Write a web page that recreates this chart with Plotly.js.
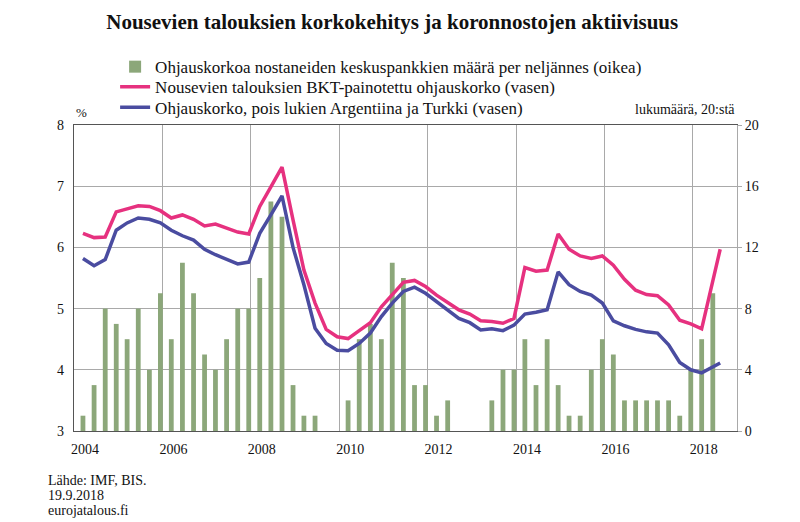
<!DOCTYPE html>
<html>
<head>
<meta charset="utf-8">
<script src="https://cdn.plot.ly/plotly-3.0.1.min.js"></script>
<style>html,body{margin:0;padding:0;background:#fff}#chart{width:800px;height:522px}</style>
</head>
<body>
<div id="chart"></div>
<script>
// Quarterly periods for the bars (2004Q1 .. 2018Q2)
const quarters = [
  "2004Q1","2004Q2","2004Q3","2004Q4","2005Q1","2005Q2","2005Q3","2005Q4",
  "2006Q1","2006Q2","2006Q3","2006Q4","2007Q1","2007Q2","2007Q3","2007Q4",
  "2008Q1","2008Q2","2008Q3","2008Q4","2009Q1","2009Q2","2009Q3","2009Q4",
  "2010Q1","2010Q2","2010Q3","2010Q4","2011Q1","2011Q2","2011Q3","2011Q4",
  "2012Q1","2012Q2","2012Q3","2012Q4","2013Q1","2013Q2","2013Q3","2013Q4",
  "2014Q1","2014Q2","2014Q3","2014Q4","2015Q1","2015Q2","2015Q3","2015Q4",
  "2016Q1","2016Q2","2016Q3","2016Q4","2017Q1","2017Q2","2017Q3","2017Q4",
  "2018Q1","2018Q2"
];
// Number of central banks (of 20) raising policy rate per quarter (right axis)
const hikes = [
  1,3,8,7,6,8,4,9, 6,11,9,5,4,6,8,8, 10,15,14,3,1,1,0,0,
  2,6,7,6,11,10,3,3, 1,2,0,0,0,2,4,4, 6,3,6,3,1,1,4,6,
  5,2,2,2,2,2,1,4, 6,9
];
// Periods of the policy-rate lines (last observation August 2018)
const ratePeriods = quarters.slice(0, 57).concat(["2018M08"]);
// GDP-weighted policy rate of emerging economies, % (left axis)
const rateEM = [
  6.23,6.16,6.17,6.58,6.63,6.68,6.67,6.60,6.48,6.53,
  6.46,6.35,6.38,6.31,6.25,6.22,6.67,6.99,7.31,6.45,
  5.63,5.09,4.66,4.54,4.51,4.64,4.77,5.03,5.22,5.43,
  5.46,5.36,5.22,5.10,4.98,4.91,4.80,4.79,4.76,4.84,
  5.67,5.61,5.63,6.22,5.97,5.86,5.82,5.86,5.71,5.48,
  5.30,5.23,5.21,5.06,4.81,4.75,4.67,5.97
];
// Policy rate excluding Argentina and Turkey, % (left axis)
const rateExAT = [
  5.82,5.70,5.80,6.28,6.40,6.48,6.46,6.40,6.28,6.19,
  6.12,5.97,5.88,5.81,5.73,5.76,6.23,6.53,6.84,6.00,
  5.39,4.68,4.43,4.32,4.31,4.43,4.60,4.87,5.09,5.28,
  5.35,5.25,5.11,4.98,4.84,4.77,4.65,4.67,4.64,4.73,
  4.91,4.94,4.98,5.60,5.39,5.28,5.22,5.09,4.80,4.72,
  4.66,4.62,4.60,4.41,4.12,4.00,3.95,4.11
];
const yearTicks = ["2004","2006","2008","2010","2012","2014","2016","2018"];
const leftTicks = [3,4,5,6,7,8];
const rightTicks = [0,4,8,12,16,20];

function toDate(p) {
  if (p.indexOf("Q") > 0) {
    const [y, q] = p.split("Q");
    return y + "-" + String(q * 3).padStart(2, "0") + "-15";
  }
  const [y, m] = p.split("M");
  return y + "-" + m + "-15";
}

const FONT = "Liberation Serif, DejaVu Serif, serif";
const GRID = "#a9a9a9";

const traces = [
  {
    type: "bar", name: "Ohjauskorkoa nostaneiden keskuspankkien määrä per neljännes (oikea)",
    x: quarters.map(toDate), y: hikes, yaxis: "y", legend: "legend",
    marker: {color: "#8ca77a", line: {width: 0}}, hoverinfo: "skip"
  },
  {
    type: "scatter", mode: "lines", name: "Nousevien talouksien BKT-painotettu ohjauskorko (vasen)",
    x: ratePeriods.map(toDate), y: rateEM, yaxis: "y2", legend: "legend2",
    line: {color: "#e6317f", width: 3.5}, hoverinfo: "skip"
  },
  {
    type: "scatter", mode: "lines", name: "Ohjauskorko, pois lukien Argentiina ja Turkki (vasen)",
    x: ratePeriods.map(toDate), y: rateExAT, yaxis: "y2", legend: "legend3",
    line: {color: "#4a4ca0", width: 3.5}, hoverinfo: "skip"
  }
];

function legendAt(y) {
  return {
    x: 0.062, xanchor: "left", y: y, yanchor: "top",
    orientation: "v", font: {family: FONT, size: 17, color: "#111"},
    bgcolor: "rgba(0,0,0,0)", itemwidth: 30
  };
}

const layout = {
  width: 800, height: 522,
  margin: {l: 74, r: 63, t: 125, b: 91},
  paper_bgcolor: "#fff", plot_bgcolor: "#fff",
  font: {family: FONT, color: "#111"},
  showlegend: true,
  bargap: 0.56,
  title: {
    text: "<b>Nousevien talouksien korkokehitys ja koronnostojen aktiivisuus</b>",
    font: {family: FONT, size: 21, color: "#111"},
    x: 0.48, xanchor: "center", xref: "paper", y: 0.958, yanchor: "middle", yref: "container"
  },
  legend: legendAt(1.248),
  legend2: legendAt(1.182),
  legend3: legendAt(1.115),
  xaxis: {
    type: "date",
    range: ["2004-01-01", "2019-01-01"],
    tickvals: yearTicks.map(y => y + "-01-01"),
    ticktext: yearTicks,
    ticklabelshift: 11,
    ticklabelstandoff: 5,
    showgrid: true, gridcolor: GRID, gridwidth: 1,
    showline: true, mirror: true, linecolor: "#555", linewidth: 1.3,
    ticks: "", zeroline: false,
    tickfont: {family: FONT, size: 14, color: "#111"}
  },
  yaxis: {
    side: "right", range: [0, 20], tickvals: rightTicks,
    showgrid: true, gridcolor: GRID, gridwidth: 1,
    showline: true, linecolor: "#a9a9a9", linewidth: 1,
    ticks: "outside", ticklen: 4, tickcolor: "#a9a9a9",
    zeroline: false, fixedrange: true,
    tickfont: {family: FONT, size: 14, color: "#111"}
  },
  yaxis2: {
    overlaying: "y", side: "left", range: [3, 8], tickvals: leftTicks,
    showgrid: false, showline: true, linecolor: "#555", linewidth: 1.3,
    ticks: "", zeroline: false, ticklabelstandoff: 6,
    tickfont: {family: FONT, size: 14, color: "#111"}
  },
  annotations: [
    {text: "%", xref: "paper", yref: "paper", x: 0.0, y: 1.04, xanchor: "left", yanchor: "middle",
     showarrow: false, font: {family: FONT, size: 13, color: "#111"}},
    {text: "lukumäärä, 20:stä", xref: "paper", yref: "paper", x: 1.0, y: 1.05, xanchor: "right", yanchor: "middle",
     showarrow: false, font: {family: FONT, size: 14, color: "#111"}},
    {text: "Lähde: IMF, BIS.", xref: "paper", yref: "paper", x: -0.042, y: -0.163, xanchor: "left", yanchor: "middle",
     showarrow: false, font: {family: FONT, size: 14, color: "#111"}},
    {text: "19.9.2018", xref: "paper", yref: "paper", x: -0.042, y: -0.212, xanchor: "left", yanchor: "middle",
     showarrow: false, font: {family: FONT, size: 14, color: "#111"}},
    {text: "eurojatalous.fi", xref: "paper", yref: "paper", x: -0.042, y: -0.26, xanchor: "left", yanchor: "middle",
     showarrow: false, font: {family: FONT, size: 14, color: "#111"}}
  ]
};

Plotly.newPlot("chart", traces, layout, {staticPlot: true, displayModeBar: false});
</script>
</body>
</html>
